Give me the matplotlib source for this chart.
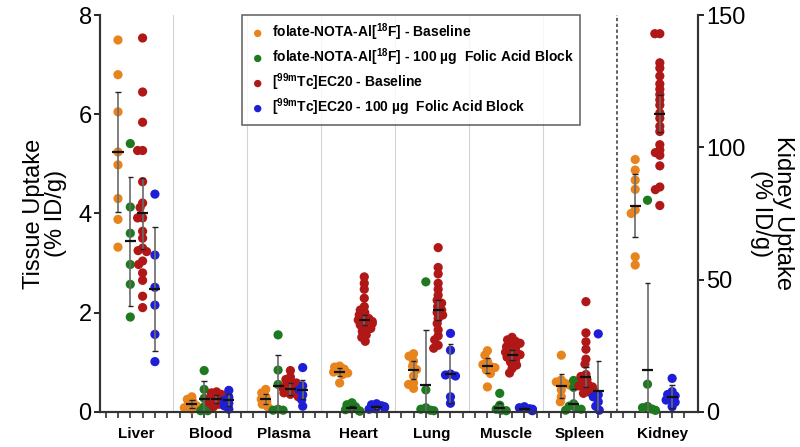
import numpy as np
import matplotlib.pyplot as plt

plt.rcParams['font.family'] = ['Liberation Sans', 'DejaVu Sans']
plt.rcParams['mathtext.fontset'] = 'custom'
plt.rcParams['mathtext.rm'] = 'Liberation Sans:bold'
plt.rcParams['mathtext.it'] = 'Liberation Sans:bold'
plt.rcParams['mathtext.bf'] = 'Liberation Sans:bold'

organs = ['Liver', 'Blood', 'Plasma', 'Heart', 'Lung', 'Muscle', 'Spleen', 'Kidney']
labels = ['folate-NOTA-Al[$^{18}$F] - Baseline',
          'folate-NOTA-Al[$^{18}$F] - 100 µg  Folic Acid Block',
          '[$^{\\mathrm{99m}}$Tc]EC20 - Baseline',
          '[$^{\\mathrm{99m}}$Tc]EC20 - 100 µg  Folic Acid Block']
colors = ['#E8841E', '#1E7A1E', '#B01818', '#1E1ED6']

# values in % ID/g, one list per organ (Kidney on the right axis)
f18_base = [
    [7.50, 6.80, 6.05, 5.24, 4.98, 4.30, 3.88, 3.32],
    [0.30, 0.25, 0.20, 0.15, 0.12, 0.08, 0.05],
    [0.45, 0.38, 0.30, 0.25, 0.20, 0.15, 0.10],
    [0.92, 0.90, 0.86, 0.82, 0.80, 0.78, 0.75, 0.58],
    [1.17, 1.12, 1.02, 0.92, 0.85, 0.72, 0.58, 0.55, 0.47],
    [1.23, 1.14, 1.01, 0.95, 0.92, 0.89, 0.84, 0.77, 0.50],
    [1.14, 0.64, 0.60, 0.57, 0.54, 0.44, 0.30, 0.20],
    [95.4, 91.4, 87.6, 84.1, 76.3, 75.0, 58.6, 55.5],
]
f18_block = [
    [5.41, 4.13, 3.60, 2.97, 2.57, 1.91],
    [0.83, 0.45, 0.27, 0.10, 0.02, 0.02],
    [1.55, 0.84, 0.55, 0.05, 0.03, 0.03],
    [0.18, 0.14, 0.10, 0.06, 0.04, 0.02, 0.01],
    [2.62, 0.44, 0.08, 0.05, 0.03, 0.02],
    [0.37, 0.13, 0.05, 0.03, 0.02],
    [0.63, 0.49, 0.16, 0.11, 0.07, 0.05, 0.03],
    [80.0, 10.4, 2.0, 1.5, 1.0, 0.5],
]
ec20_base = [
    [7.54, 6.45, 5.84, 5.27, 5.27, 4.64, 4.21, 4.12, 3.91, 3.91, 3.64,
     3.50, 3.30, 3.25, 3.23, 3.04, 2.97, 2.80, 2.65, 2.33, 2.10],
    [0.40, 0.38, 0.35, 0.32, 0.30, 0.30, 0.28, 0.25, 0.22, 0.22, 0.20,
     0.18, 0.15, 0.12, 0.10],
    [0.83, 0.70, 0.65, 0.60, 0.58, 0.55, 0.52, 0.50, 0.48, 0.45, 0.42,
     0.40, 0.38, 0.35, 0.32, 0.30],
    [2.72, 2.59, 2.47, 2.29, 2.12, 2.05, 2.00, 1.95, 1.90, 1.88, 1.85,
     1.82, 1.80, 1.78, 1.75, 1.70, 1.68, 1.62, 1.55, 1.50, 1.42],
    [3.31, 2.91, 2.78, 2.59, 2.47, 2.35, 2.25, 2.19, 2.12, 2.05, 2.00,
     1.95, 1.88, 1.78, 1.65, 1.53, 1.45, 1.34, 1.28],
    [1.50, 1.45, 1.42, 1.38, 1.35, 1.31, 1.28, 1.24, 1.20, 1.18, 1.15,
     1.12, 1.10, 1.04, 1.00, 0.94, 0.87, 0.78],
    [2.22, 1.59, 1.41, 1.26, 1.06, 0.96, 0.75, 0.71, 0.65, 0.60, 0.55,
     0.52, 0.50, 0.47, 0.44, 0.40, 0.37],
    [143, 143, 132, 130, 127, 124, 122, 120, 118, 116, 113, 111, 108,
     106, 101, 99, 98, 97, 93, 85, 84, 78],
]
ec20_block = [
    [4.39, 3.16, 2.51, 2.15, 1.56, 1.01],
    [0.43, 0.29, 0.23, 0.17, 0.12, 0.05],
    [0.89, 0.52, 0.44, 0.34, 0.24, 0.11],
    [0.16, 0.14, 0.12, 0.10, 0.08, 0.06, 0.05],
    [1.58, 1.24, 0.76, 0.74, 0.72, 0.30, 0.17],
    [0.10, 0.08, 0.06, 0.05, 0.04, 0.03, 0.02],
    [1.57, 0.34, 0.30, 0.20, 0.11, 0.03],
    [12.6, 7.6, 6.5, 6.0, 4.8, 4.4, 3.6, 1.9],
]

# mean and error bar half-length
f18_base_mean = [5.24, 0.15, 0.25, 0.81, 0.84, 0.93, 0.52, 78.0]
f18_base_err = [1.22, 0.08, 0.10, 0.08, 0.19, 0.15, 0.24, 12.0]
f18_block_mean = [3.44, 0.26, 0.52, 0.07, 0.54, 0.08, 0.16, 15.8]
f18_block_err = [1.30, 0.35, 0.62, 0.05, 1.10, 0.10, 0.30, 33.0]
ec20_base_mean = [4.00, 0.25, 0.45, 1.85, 2.05, 1.14, 0.70, 112.8]
ec20_base_err = [0.72, 0.08, 0.12, 0.10, 0.20, 0.10, 0.20, 7.0]
ec20_block_mean = [2.47, 0.23, 0.44, 0.09, 0.77, 0.05, 0.42, 5.7]
ec20_block_err = [1.25, 0.12, 0.19, 0.03, 0.60, 0.03, 0.60, 4.4]

data = [f18_base, f18_block, ec20_base, ec20_block]
means = [f18_base_mean, f18_block_mean, ec20_base_mean, ec20_block_mean]
errs = [f18_base_err, f18_block_err, ec20_base_err, ec20_block_err]

SLOT_PX = 12.32
LEFT_PX_PER_UNIT = 49.6
RIGHT_PX_PER_UNIT = 49.6 * 8 / 150


def swarm(vals, ppu, dmin=5.0):
    # simple beeswarm offsets in slot units
    placed = []
    offs = []
    cands = sorted(np.arange(-16, 17) * 0.5, key=abs)
    for v in vals:
        y = v * ppu
        for c in cands:
            if all((c - px) ** 2 + (y - py) ** 2 >= dmin ** 2 for px, py in placed):
                break
        placed.append((c, y))
        offs.append(c / SLOT_PX)
    return offs


fig = plt.figure(figsize=(8, 4.47), dpi=100)
ax = fig.add_axes([0.125, 0.079, 0.7475, 0.887])
ax2 = ax.twinx()

xmin, xmax = -1.46, 47.1
ax.set_xlim(xmin, xmax)
ax.set_ylim(0, 8)
ax2.set_ylim(0, 150)

for g in range(4):
    for i, organ in enumerate(organs):
        if organ == 'Kidney':
            xc = 42 + g
            a, ppu = ax2, RIGHT_PX_PER_UNIT
        else:
            xc = 6 * i + g
            a, ppu = ax, LEFT_PX_PER_UNIT
        vals = data[g][i]
        xs = xc + np.array(swarm(vals, ppu))
        a.scatter(xs, vals, s=44, color=colors[g], edgecolors='none',
                  zorder=3, clip_on=False,
                  label=labels[g] if i == 0 else None)
        m, e = means[g][i], errs[g][i]
        a.vlines(xc, max(m - e, 0), m + e, color='#6a6a6a', lw=1.2, zorder=4)
        a.hlines([m - e, m + e], xc - 0.22, xc + 0.22, color='#222222', lw=1.0, zorder=4)
        a.hlines(m, xc - 0.45, xc + 0.45, color='#111111', lw=1.6, zorder=5)

for gx in np.arange(4.5, 35, 6):
    ax.axvline(gx, color='#d4d4d4', lw=0.8, zorder=0)
ax.axvline(40.5, color='#444444', lw=1.2, ls=(0, (2, 1.5)), zorder=1)

centers = [6 * i + 1.5 for i in range(7)] + [44.2]
ax.set_xticks(centers)
ax.set_xticklabels(organs, fontsize=11, fontweight='bold')
ax.tick_params(axis='x', length=0, pad=11)
ax.set_xticks(np.arange(-1, 47), minor=True)
ax.tick_params(axis='x', which='minor', length=4, width=1.2, color='#333333')

ax.set_yticks([0, 2, 4, 6, 8])
ax2.set_yticks([0, 50, 100, 150])
ax.tick_params(axis='y', labelsize=17, length=4, width=1.2, pad=2)
ax2.tick_params(axis='y', labelsize=17, length=4, width=1.2, pad=2)

for a in (ax, ax2):
    a.spines['top'].set_visible(False)
    for s in ('left', 'right', 'bottom'):
        a.spines[s].set_linewidth(1.5)
        a.spines[s].set_color('#333333')

ax.set_ylabel('Tissue Uptake\n(% ID/g)', fontsize=17, labelpad=8, linespacing=1.0)
ax2.set_ylabel('Kidney Uptake\n(% ID/g)', fontsize=17, rotation=270,
               labelpad=35, linespacing=1.0)

h1, l1 = ax.get_legend_handles_labels()
leg = ax2.legend(h1, l1, loc='upper left', bbox_to_anchor=(0.237, 1.0),
                 prop={'weight': 'bold', 'size': 10, 'family': 'Liberation Sans'},
                 frameon=True, fancybox=False, edgecolor='#444444',
                 labelspacing=0.25, handletextpad=0.3, borderpad=0.45,
                 borderaxespad=0, markerscale=0.8, handlelength=1.4)
leg.get_frame().set_linewidth(1.2)
leg.set_zorder(10)

fig.savefig('out.png', dpi=100)
